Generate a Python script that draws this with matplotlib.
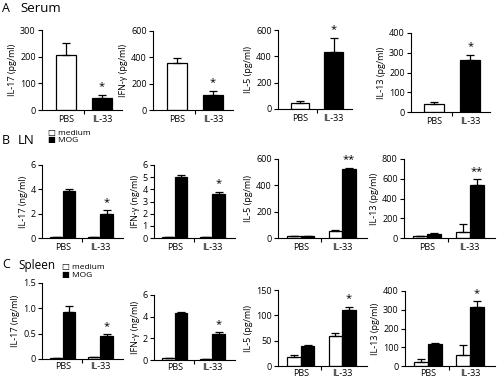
import matplotlib
matplotlib.use('Agg')
import matplotlib.pyplot as plt
import numpy as np

plt.rcParams['font.family'] = ['Open Sans', 'DejaVu Sans']
plt.rcParams['font.size'] = 6
plt.rcParams['axes.linewidth'] = 0.8

groups = ['PBS', 'IL-33']

# ---- A: Serum (single bars: PBS white, IL-33 black) ----
serum_labels = ['IL-17 (pg/ml)', 'IFN-\u03b3 (pg/ml)', 'IL-5 (pg/ml)', 'IL-13 (pg/ml)']
serum_vals = [[205, 45], [360, 115], [45, 435], [38, 265]]
serum_err = [[45, 12], [35, 30], [15, 105], [12, 25]]
serum_ymax = [300, 600, 600, 400]
serum_ticks = [[0, 100, 200, 300], [0, 200, 400, 600], [0, 200, 400, 600], [0, 100, 200, 300, 400]]

# ---- B: LN (medium / MOG) ----
ln_labels = ['IL-17 (ng/ml)', 'IFN-\u03b3 (ng/ml)', 'IL-5 (pg/ml)', 'IL-13 (pg/ml)']
ln_medium = [[0.05, 0.05], [0.05, 0.05], [15, 55], [20, 60]]
ln_medium_err = [[0, 0], [0, 0], [2, 8], [4, 80]]
ln_mog = [[3.9, 2.0], [5.05, 3.6], [15, 525], [45, 540]]
ln_mog_err = [[0.15, 0.3], [0.15, 0.2], [3, 8], [4, 55]]
ln_ymax = [6, 6, 600, 800]
ln_ticks = [[0, 2, 4, 6], [0, 1, 2, 3, 4, 5, 6], [0, 200, 400, 600], [0, 200, 400, 600, 800]]
ln_stars = ['*', '*', '**', '**']

# ---- C: Spleen (medium / MOG) ----
sp_labels = ['IL-17 (ng/ml)', 'IFN-\u03b3 (ng/ml)', 'IL-5 (pg/ml)', 'IL-13 (pg/ml)']
sp_medium = [[0.02, 0.04], [0.2, 0.1], [18, 60], [20, 60]]
sp_medium_err = [[0, 0], [0, 0], [3, 5], [20, 50]]
sp_mog = [[0.92, 0.46], [4.35, 2.4], [40, 110], [115, 315]]
sp_mog_err = [[0.12, 0.03], [0.1, 0.2], [2, 7], [10, 30]]
sp_ymax = [1.5, 6, 150, 400]
sp_ticks = [[0, 0.5, 1.0, 1.5], [0, 2, 4, 6], [0, 50, 100, 150], [0, 100, 200, 300, 400]]
sp_ticklabels = [['0', '0.5', '1.0', '1.5'], None, None, None]

W, H = 500, 382
fig = plt.figure(figsize=(W / 100, H / 100), dpi=100)


def px_axes(left, top, right, bottom):
    return fig.add_axes([left / W, 1 - bottom / H, (right - left) / W, (bottom - top) / H])


def style(ax, ymax, ticks, ylabel, ticklabels=None, xpad=3.5):
    ax.spines['top'].set_visible(False)
    ax.spines['right'].set_visible(False)
    ax.set_ylim(0, ymax)
    ax.set_yticks(ticks)
    if ticklabels is not None:
        ax.set_yticklabels(ticklabels)
    ax.set_xticks([0, 1])
    ax.set_xticklabels(groups, fontsize=6.5)
    ax.tick_params(axis='x', which='major', length=0, pad=xpad)
    ax.set_xticks([0.5], minor=True)
    ax.tick_params(axis='x', which='minor', length=3, width=0.8)
    ax.tick_params(axis='y', length=3, width=0.8, labelsize=6.5, pad=1.5)
    ax.set_ylabel(ylabel, fontsize=6.5, labelpad=2)


ek = dict(ecolor='black', elinewidth=0.9, capsize=3, capthick=0.9)

# row A positions (left, top, right, bottom)
posA = [(42, 30, 122, 110), (153, 31, 233, 110), (278, 30, 352, 109), (411, 33, 490, 112)]
for i, p in enumerate(posA):
    ax = px_axes(*p)
    x = np.arange(2)
    v = serum_vals[i]
    e = serum_err[i]
    ax.bar(x, v, 0.55, color=['white', 'black'], edgecolor='black', linewidth=0.9,
           yerr=[[0, 0], e], error_kw=ek)
    ax.set_xlim(-0.65, 1.55)
    style(ax, serum_ymax[i], serum_ticks[i], serum_labels[i])
    top = v[1] + e[1]
    ax.text(1, top + serum_ymax[i] * 0.03, '*', ha='center', va='bottom', fontsize=8)


def grouped(positions, labels, med, med_e, mog, mog_e, ymax, ticks, stars, tlabels=None, xpad=3.5):
    for i, p in enumerate(positions):
        ax = px_axes(*p)
        x = np.arange(2)
        w = 0.33
        ax.bar(x - w / 2, med[i], w, color='white', edgecolor='black', linewidth=0.9,
               yerr=[[0, 0], med_e[i]], error_kw=ek)
        ax.bar(x + w / 2, mog[i], w, color='black', edgecolor='black', linewidth=0.9,
               yerr=[[0, 0], mog_e[i]], error_kw=ek)
        ax.set_xlim(-0.55, 1.6)
        style(ax, ymax[i], ticks[i], labels[i], tlabels[i] if tlabels else None, xpad)
        top = mog[i][1] + mog_e[i][1]
        ax.text(1 + w / 2, top + ymax[i] * 0.03, stars[i], ha='center', va='bottom', fontsize=8)


posB = [(42, 165, 123, 238), (154, 165, 235, 238), (278, 159, 367, 238), (404, 159, 495, 238)]
grouped(posB, ln_labels, ln_medium, ln_medium_err, ln_mog, ln_mog_err, ln_ymax, ln_ticks, ln_stars)

posC = [(42, 283, 123, 359), (154, 295, 235, 360), (278, 290, 367, 366), (405, 291, 495, 366)]
grouped(posC, sp_labels, sp_medium, sp_medium_err, sp_mog, sp_mog_err, sp_ymax, sp_ticks,
        ['*'] * 4, sp_ticklabels, xpad=2)

# panel letters and titles
def ftext(x, y, s, **kw):
    fig.text(x / W, 1 - y / H, s, va='center', **kw)

ftext(2, 9, 'A', fontsize=9)
ftext(20, 9, 'Serum', fontsize=9.5)
ftext(2, 140, 'B', fontsize=9)
ftext(18, 141, 'LN', fontsize=9.5)
ftext(2, 264, 'C', fontsize=9)
ftext(18, 266, 'Spleen', fontsize=8.5)

# legends
def legend(x, y):
    ftext(x, y, '\u25a1 medium', fontsize=6)
    ftext(x, y + 8, '\u25a0 MOG', fontsize=6)

legend(48, 133)
legend(62, 267)

plt.savefig('out.png', dpi=100)
